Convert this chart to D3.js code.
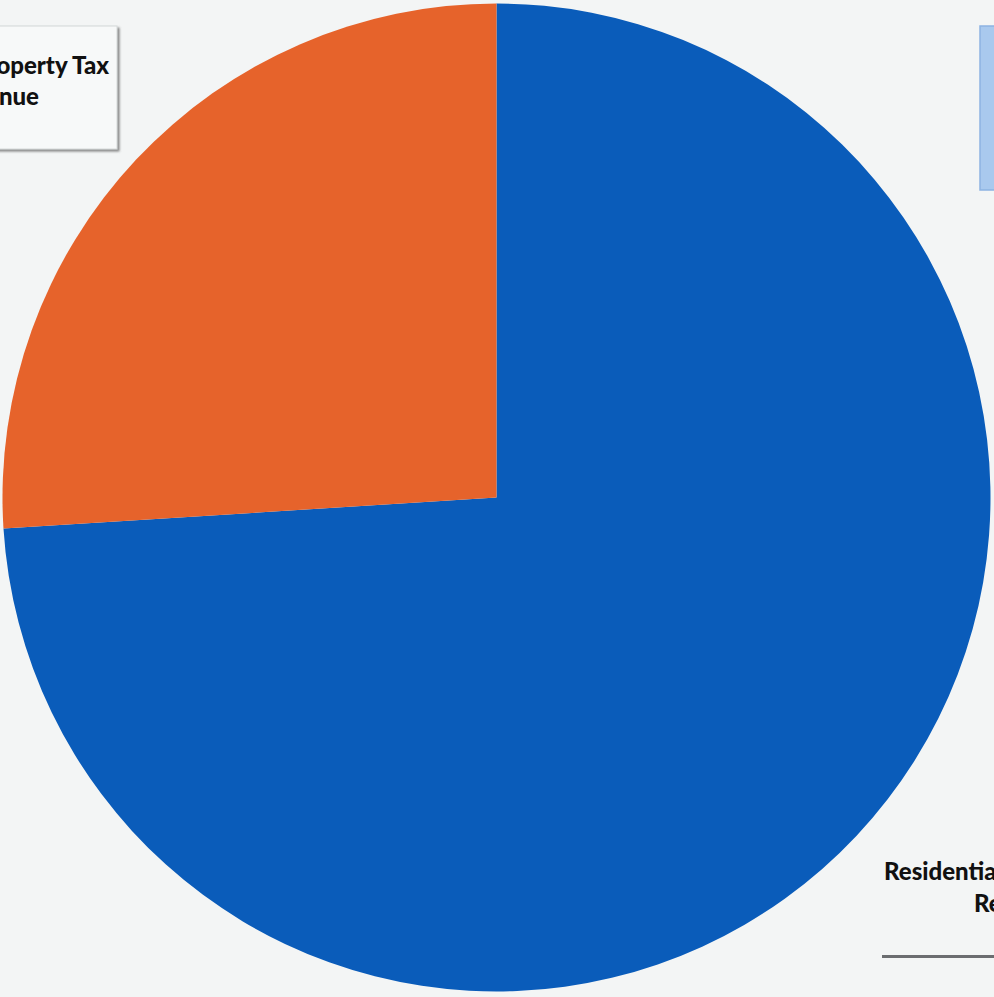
<!DOCTYPE html>
<html>
<head>
<meta charset="utf-8">
<script src="https://cdn.jsdelivr.net/npm/d3@7"></script>
<style>
html,body{margin:0;padding:0;background:#f3f5f5;}
svg{display:block;}
</style>
</head>
<body>
<svg id="chart" width="994" height="997"></svg>
<script>
// Data
const categories = ["Residential Property Tax Revenue", "Commercial Property Tax Revenue"];
const values = [74, 26];
const colors = ["#0a5cba", "#e6632b"];
const labelLines = [["Residential Property Tax", "Revenue"], ["Commercial Property Tax", "Revenue"]];

const svg = d3.select("#chart");
const W = 994, H = 997;
const cx = 496.5, cy = 497.5, r = 494;

svg.append("rect").attr("width", W).attr("height", H).attr("fill", "#f3f5f5");

const defs = svg.append("defs");
const f = defs.append("filter").attr("id", "sh").attr("x", "-20%").attr("y", "-20%").attr("width", "140%").attr("height", "140%");
f.append("feDropShadow").attr("dx", 2).attr("dy", 2).attr("stdDeviation", 1.2).attr("flood-color", "#555").attr("flood-opacity", 0.7);

// top-left label box
svg.append("rect").attr("x", -10).attr("y", 26).attr("width", 127).attr("height", 123)
  .attr("fill", "#f7f9f9").attr("stroke", "#d4d8d8").attr("stroke-width", 1).attr("filter", "url(#sh)");

// top-right light blue box
svg.append("rect").attr("x", 980).attr("y", 26).attr("width", 30).attr("height", 164)
  .attr("fill", "#a9c9ee").attr("stroke", "#8db3e2").attr("stroke-width", 1.5);

// bottom-right label box edge
svg.append("rect").attr("x", 882).attr("y", 955).attr("width", 130).attr("height", 3)
  .attr("fill", "#6b6d70");

// Pie
const pie = d3.pie().value(d => d).sort(null).startAngle(0).endAngle(2 * Math.PI);
const arcs = pie(values);
const arc = d3.arc().innerRadius(0).outerRadius(r);
const g = svg.append("g").attr("transform", `translate(${cx},${cy})`);
g.selectAll("path").data(arcs).join("path")
  .attr("d", arc)
  .attr("fill", (d, i) => colors[i]);

// Labels
const font = "Lato, 'Open Sans', sans-serif";
const lab = svg.append("g").attr("font-family", font).attr("font-weight", 900).attr("font-size", 24).attr("fill", "#111");
lab.append("text").attr("x", 884).attr("y", 880).attr("text-anchor", "start").text(labelLines[0][0]);
lab.append("text").attr("x", 974).attr("y", 912).attr("text-anchor", "start").text(labelLines[0][1]);
lab.append("text").attr("x", 109).attr("y", 74).attr("text-anchor", "end").text(labelLines[1][0]);
lab.append("text").attr("x", 39).attr("y", 105).attr("text-anchor", "end").text(labelLines[1][1]);
</script>
</body>
</html>
